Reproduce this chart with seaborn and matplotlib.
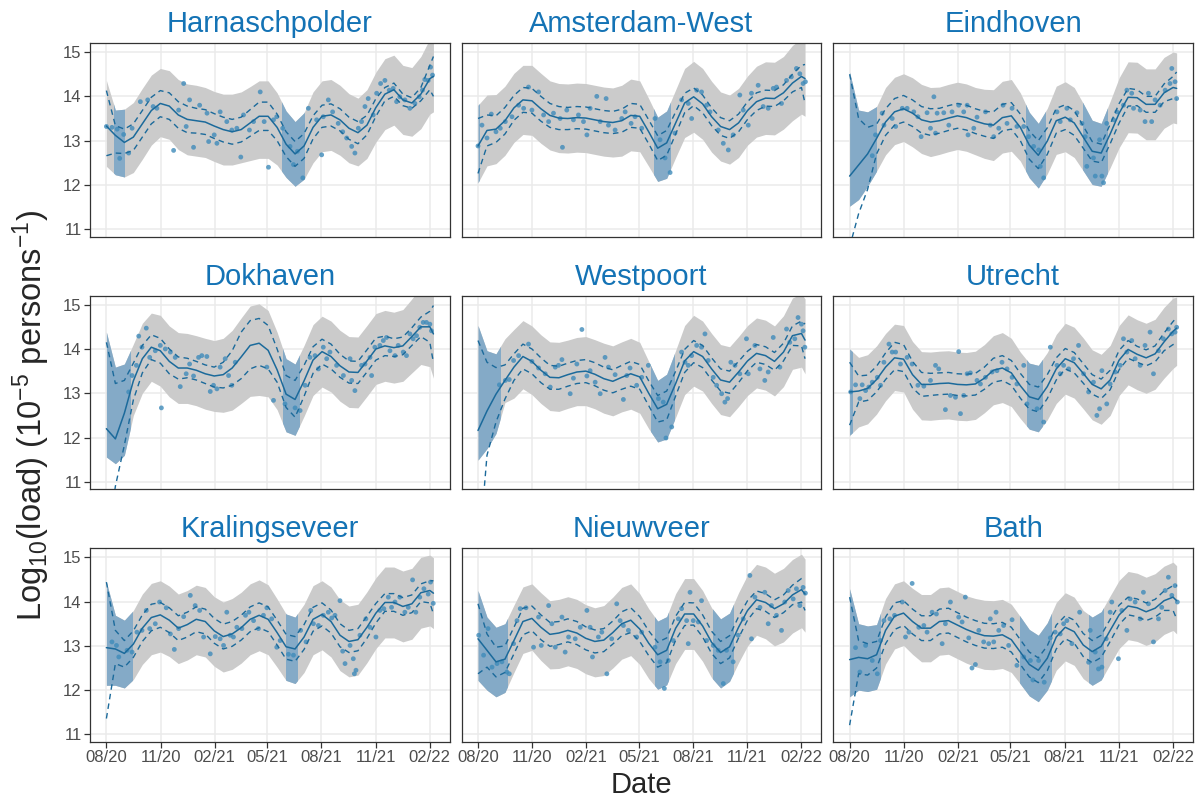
"""
Wastewater viral load per treatment plant: 3x3 facets with model fit,
confidence band (dashed), prediction band (grey / blue where data are sparse).
"""

import numpy as np
import pandas as pd
import matplotlib
matplotlib.use("Agg")
import matplotlib.pyplot as plt
import matplotlib.dates as mdates
from matplotlib.patches import Rectangle
import seaborn as sns

sns.set_theme(style="whitegrid")
plt.rcParams['font.family'] = ['Liberation Sans', 'DejaVu Sans']
plt.rcParams['mathtext.fontset'] = 'custom'
plt.rcParams['mathtext.rm'] = 'Liberation Sans'
plt.rcParams['mathtext.it'] = 'Liberation Sans:italic'
plt.rcParams['mathtext.bf'] = 'Liberation Sans:bold'
plt.rcParams['mathtext.default'] = 'regular'

GRAY_BAND = '#cbcbcb'
BLUE_BAND = '#84aac7'
LINE_COL = '#1b6a9b'
POINT_COL = '#3f8bba'
TITLE_COL = '#1473b5'

# ---------- data (x in months since 2020-08-01) ----------
START = pd.Timestamp('2020-08-01')
DAYS_PER_MONTH = 30.5

SITES = ['Harnaschpolder', 'Amsterdam-West', 'Eindhoven',
         'Dokhaven', 'Westpoort', 'Utrecht',
         'Kralingseveer', 'Nieuwveer', 'Bath']

MONTHS = [0, 0.5, 1, 1.5, 2, 2.5, 3, 3.5, 4, 4.5, 5, 5.5, 6, 6.5, 7, 7.5, 8, 8.5,
          9, 9.5, 10, 10.5, 11, 11.5, 12, 12.5, 13, 13.5, 14, 14.5, 15, 15.5,
          16, 16.5, 17, 17.5, 18, 18.2]

# Harnaschpolder
HAR_MEAN = [13.33, 13.12, 12.96, 13.08, 13.38, 13.68, 13.84, 13.78, 13.58, 13.48,
            13.45, 13.42, 13.33, 13.25, 13.2, 13.25, 13.4, 13.55, 13.55, 13.3,
            12.92, 12.7, 12.88, 13.3, 13.55, 13.58, 13.47, 13.28, 13.18, 13.35,
            13.75, 14.05, 14.15, 13.92, 13.85, 14.05, 14.4, 14.45]
HAR_CI_HI = [0.8, 0.22, 0.3, 0.3, 0.3, 0.3, 0.29, 0.3, 0.3, 0.3, 0.28, 0.28, 0.28,
             0.28, 0.28, 0.28, 0.3, 0.32, 0.32, 0.3, 0.28, 0.28, 0.28, 0.26, 0.25,
             0.25, 0.25, 0.25, 0.25, 0.22, 0.2, 0.15, 0.15, 0.13, 0.12, 0.15, 0.3, 0.45]
HAR_CI_LO = [0.67, 0.4, 0.25, 0.3, 0.3, 0.3, 0.3, 0.3, 0.3, 0.3, 0.28, 0.28, 0.28,
             0.28, 0.28, 0.28, 0.3, 0.32, 0.32, 0.3, 0.28, 0.28, 0.28, 0.26, 0.25,
             0.25, 0.25, 0.25, 0.25, 0.22, 0.2, 0.15, 0.15, 0.13, 0.12, 0.15, 0.25, 0.45]
HAR_PI_HI = [1.03, 0.57, 0.75, 0.78, 0.8, 0.8, 0.79, 0.8, 0.8, 0.8, 0.8, 0.78, 0.78,
             0.8, 0.85, 0.85, 0.82, 0.8, 0.8, 0.78, 0.75, 0.73, 0.75, 0.8, 0.8, 0.8,
             0.78, 0.78, 0.78, 0.8, 0.8, 0.8, 0.78, 0.78, 0.8, 0.85, 0.9, 0.95]
HAR_PI_LO = [0.91, 0.89, 0.78, 0.8, 0.8, 0.78, 0.75, 0.75, 0.78, 0.8, 0.8, 0.8, 0.8,
             0.8, 0.75, 0.75, 0.85, 0.95, 0.95, 0.85, 0.75, 0.73, 0.75, 0.8, 0.8,
             0.8, 0.8, 0.78, 0.75, 0.75, 0.78, 0.8, 0.8, 0.78, 0.75, 0.78, 0.8, 0.8]
HAR_BLUE = [(0.44, 1.0), (9.8, 11.0)]
HAR_PX = [0, 0.31, 0.6, 0.74, 0.96, 1.24, 1.43, 1.89, 2.3, 2.6, 2.81, 3.74, 4.02,
          4.3, 4.44, 4.63, 4.85, 5.19, 5.6, 5.69, 6.0, 6.15, 6.33, 6.7, 6.98, 7.26,
          7.48, 7.63, 7.96, 8.19, 8.56, 8.78, 9.02, 9.3, 9.48, 9.81, 10.22, 10.41,
          10.63, 10.93, 11.24, 11.7, 11.98, 12.07, 12.35, 12.59, 12.9, 13.15, 13.37,
          13.65, 13.83, 14.02, 14.2, 14.39, 14.57, 14.85, 15.04, 15.26, 15.5, 15.74,
          15.96, 16.15, 16.33, 16.61, 16.89, 17.17, 17.41, 17.59, 17.72, 17.91,
          18.04, 18.15]
HAR_PY = [13.32, 13.3, 13.26, 12.6, 13.14, 12.72, 13.28, 13.88, 13.92, 13.77,
          13.73, 12.78, 13.69, 14.29, 13.32, 13.92, 12.85, 13.8, 13.62, 12.98,
          13.13, 12.94, 13.65, 13.43, 13.24, 13.28, 12.63, 13.58, 13.24, 13.43,
          14.1, 13.43, 12.4, 13.47, 13.54, 13.28, 12.87, 12.46, 12.76, 12.16, 13.73,
          13.47, 12.68, 13.54, 13.92, 13.65, 13.39, 13.2, 13.06, 12.87, 12.72, 13.28,
          13.43, 13.77, 13.95, 13.58, 14.07, 14.29, 14.36, 14.14, 14.18, 13.88,
          13.99, 13.92, 13.73, 13.84, 13.99, 14.14, 14.38, 14.36, 14.66, 14.48]

# Amsterdam-West
AMS_MEAN = [12.88, 13.23, 13.26, 13.45, 13.74, 13.92, 13.9, 13.72, 13.57, 13.51,
            13.5, 13.52, 13.51, 13.47, 13.43, 13.41, 13.45, 13.57, 13.55, 13.2,
            12.83, 12.95, 13.4, 13.85, 13.99, 13.83, 13.54, 13.32, 13.25, 13.4,
            13.68, 13.88, 13.96, 13.95, 14.08, 14.3, 14.45, 14.4]
AMS_CI_HI = [0.62, 0.35, 0.3, 0.3, 0.28, 0.28, 0.28, 0.28, 0.27, 0.26, 0.25, 0.25,
             0.25, 0.25, 0.25, 0.25, 0.26, 0.27, 0.27, 0.27, 0.28, 0.28, 0.25, 0.22,
             0.2, 0.2, 0.2, 0.2, 0.2, 0.2, 0.2, 0.2, 0.18, 0.18, 0.18, 0.2, 0.25, 0.32]
AMS_CI_LO = [0.62, 0.35, 0.3, 0.3, 0.28, 0.28, 0.28, 0.28, 0.27, 0.26, 0.25, 0.25,
             0.25, 0.25, 0.25, 0.25, 0.26, 0.27, 0.27, 0.27, 0.28, 0.28, 0.25, 0.22,
             0.2, 0.2, 0.2, 0.2, 0.2, 0.2, 0.2, 0.2, 0.18, 0.18, 0.18, 0.2, 0.25, 0.56]
AMS_PI_HI = [0.92, 0.8, 0.78, 0.78, 0.78, 0.78, 0.8, 0.8, 0.78, 0.78, 0.78, 0.78,
             0.78, 0.78, 0.78, 0.78, 0.8, 0.82, 0.8, 0.75, 0.7, 0.72, 0.75, 0.78,
             0.8, 0.8, 0.8, 0.78, 0.78, 0.78, 0.78, 0.8, 0.82, 0.82, 0.82, 0.85,
             0.85, 0.85]
AMS_PI_LO = [0.83, 0.8, 0.78, 0.78, 0.78, 0.78, 0.78, 0.78, 0.78, 0.78, 0.78, 0.78,
             0.78, 0.78, 0.78, 0.78, 0.8, 0.8, 0.8, 0.78, 0.75, 0.8, 0.78, 0.78,
             0.8, 0.8, 0.8, 0.78, 0.78, 0.78, 0.78, 0.8, 0.82, 0.82, 0.82, 0.85,
             0.85, 0.85]
AMS_BLUE = [(0.0, 0.07), (9.8, 10.7)]
AMS_PX = [0, 0.22, 0.5, 0.74, 1.0, 1.24, 1.52, 1.89, 2.26, 2.54, 2.81, 3.0, 3.37,
          3.65, 3.93, 4.2, 4.57, 4.7, 4.94, 5.31, 5.59, 5.87, 6.06, 6.24, 6.61, 6.8,
          7.13, 7.26, 7.63, 8.0, 8.19, 8.52, 8.74, 9.11, 9.85, 10.13, 10.41, 10.69,
          10.96, 11.33, 11.7, 11.89, 12.17, 12.44, 12.72, 12.91, 13.37, 13.65, 13.93,
          14.2, 14.57, 14.76, 15.04, 15.22, 15.59, 15.87, 16.15, 16.43, 16.61, 16.89,
          17.17, 17.44, 17.72, 17.91, 18.09, 18.22]
AMS_PY = [12.88, 13.35, 13.06, 13.6, 13.2, 13.28, 13.43, 13.54, 13.8, 13.73, 14.21,
          13.69, 14.1, 13.58, 13.43, 13.62, 13.5, 12.85, 13.69, 13.47, 13.58, 13.43,
          13.13, 13.73, 14.0, 13.43, 13.95, 13.35, 13.24, 13.5, 13.65, 13.39, 13.54,
          13.28, 13.5, 13.02, 12.61, 12.28, 13.17, 13.92, 13.84, 13.5, 14.14, 14.1,
          13.8, 13.65, 13.24, 12.94, 12.79, 13.13, 14.03, 13.69, 13.35, 14.07, 14.25,
          13.77, 13.73, 14.18, 14.21, 13.84, 14.36, 14.44, 14.63, 14.51, 14.29, 14.33]

# Eindhoven
EIN_MEAN = [12.2, 12.45, 12.7, 13.05, 13.42, 13.65, 13.72, 13.62, 13.47, 13.42,
            13.45, 13.51, 13.56, 13.52, 13.44, 13.38, 13.35, 13.52, 13.56, 13.3,
            12.9, 12.67, 12.99, 13.45, 13.53, 13.4, 13.08, 12.76, 12.72, 13.15,
            13.62, 13.98, 13.97, 13.82, 13.82, 14.08, 14.2, 14.18]
EIN_CI_HI = [2.3, 1.05, 0.6, 0.32, 0.3, 0.3, 0.3, 0.3, 0.3, 0.3, 0.28, 0.28, 0.28,
             0.28, 0.28, 0.28, 0.3, 0.3, 0.3, 0.3, 0.32, 0.33, 0.3, 0.28, 0.28, 0.28,
             0.25, 0.22, 0.2, 0.22, 0.22, 0.2, 0.18, 0.18, 0.18, 0.2, 0.25, 0.37]
EIN_CI_LO = [1.6, 1.1, 0.8, 0.35, 0.3, 0.3, 0.3, 0.3, 0.3, 0.3, 0.28, 0.28, 0.28,
             0.28, 0.28, 0.28, 0.3, 0.3, 0.3, 0.3, 0.32, 0.3, 0.3, 0.28, 0.28, 0.28,
             0.25, 0.22, 0.22, 0.22, 0.22, 0.2, 0.18, 0.18, 0.18, 0.2, 0.25, 0.25]
EIN_PI_HI = [2.35, 1.24, 0.95, 0.72, 0.78, 0.78, 0.79, 0.8, 0.8, 0.78, 0.76, 0.76,
             0.76, 0.76, 0.76, 0.78, 0.8, 0.82, 0.82, 0.78, 0.74, 0.72, 0.74, 0.78,
             0.8, 0.8, 0.76, 0.7, 0.67, 0.74, 0.8, 0.8, 0.8, 0.8, 0.8, 0.8, 0.8, 0.8]
EIN_PI_LO = [0.68, 0.78, 0.73, 0.74, 0.74, 0.74, 0.74, 0.76, 0.76, 0.78, 0.76, 0.76,
             0.76, 0.76, 0.76, 0.78, 0.8, 0.8, 0.8, 0.76, 0.74, 0.74, 0.74, 0.76,
             0.78, 0.78, 0.76, 0.75, 0.75, 0.76, 0.78, 0.8, 0.8, 0.8, 0.8, 0.8, 0.8, 0.8]
EIN_BLUE = [(0.0, 1.45), (9.8, 10.9), (13.0, 14.35)]
EIN_PX = [1.26, 1.44, 1.81, 1.91, 2.37, 2.56, 2.93, 3.2, 3.57, 3.8, 3.98, 4.31, 4.5,
          4.78, 4.87, 4.69, 5.24, 5.52, 5.7, 6.07, 6.35, 6.54, 6.59, 6.91, 7.09,
          7.56, 7.83, 8.02, 8.3, 8.54, 8.76, 9.04, 9.31, 9.69, 9.96, 10.24, 10.52,
          10.61, 10.8, 11.54, 11.72, 12.09, 12.28, 12.65, 12.93, 13.11, 13.2, 13.57,
          13.67, 13.91, 14.04, 14.13, 14.31, 14.69, 14.87, 15.24, 15.43, 15.7, 15.8,
          16.17, 16.44, 16.63, 16.81, 17.0, 17.28, 17.56, 17.83, 17.93, 18.11, 18.2]
EIN_PY = [12.66, 13.13, 13.62, 13.35, 13.5, 13.32, 13.73, 13.73, 13.65, 13.54,
          13.09, 13.63, 13.28, 13.17, 13.62, 13.99, 13.63, 13.35, 13.65, 13.8,
          13.65, 13.8, 13.13, 13.28, 13.53, 13.65, 13.35, 13.09, 13.28, 13.8, 13.39,
          13.73, 13.32, 13.32, 13.09, 12.87, 12.79, 12.42, 12.16, 13.65, 13.43,
          13.73, 13.47, 13.63, 13.39, 13.09, 12.42, 12.61, 12.2, 13.02, 12.2, 12.05,
          13.39, 13.47, 13.65, 13.8, 14.14, 14.07, 13.73, 13.69, 13.43, 14.07, 13.43,
          13.92, 13.8, 14.14, 14.29, 14.63, 14.33, 13.95]

# Dokhaven
DOK_MEAN = [12.2, 11.97, 12.55, 13.28, 13.78, 14.04, 13.96, 13.72, 13.57, 13.57,
            13.52, 13.44, 13.39, 13.42, 13.57, 13.82, 14.08, 14.13, 13.97, 13.53,
            12.98, 12.86, 13.28, 13.75, 13.94, 13.83, 13.62, 13.48, 13.47, 13.73,
            14.0, 14.07, 14.03, 14.07, 14.28, 14.5, 14.5, 14.34]
DOK_CI_HI = [1.95, 1.25, 0.74, 0.4, 0.3, 0.28, 0.28, 0.28, 0.25, 0.22, 0.2, 0.2, 0.2,
             0.28, 0.39, 0.56, 0.56, 0.56, 0.56, 0.47, 0.42, 0.43, 0.35, 0.3, 0.28,
             0.28, 0.26, 0.25, 0.25, 0.25, 0.25, 0.22, 0.2, 0.2, 0.2, 0.22, 0.35, 0.64]
DOK_CI_LO = [2.7, 1.07, 0.72, 0.43, 0.32, 0.28, 0.28, 0.28, 0.25, 0.22, 0.22, 0.22,
             0.25, 0.3, 0.39, 0.49, 0.53, 0.5, 0.42, 0.28, 0.3, 0.4, 0.35, 0.3, 0.28,
             0.28, 0.26, 0.25, 0.25, 0.25, 0.25, 0.22, 0.2, 0.2, 0.2, 0.22, 0.35, 0.65]
DOK_PI_HI = [2.18, 1.62, 1.11, 0.83, 0.8, 0.77, 0.8, 0.8, 0.8, 0.78, 0.78, 0.8, 0.8,
             0.82, 0.85, 0.88, 0.89, 0.89, 0.9, 0.85, 0.8, 0.8, 0.8, 0.8, 0.8, 0.8,
             0.8, 0.8, 0.8, 0.8, 0.8, 0.8, 0.8, 0.82, 0.85, 0.9, 0.95, 1.0]
DOK_PI_LO = [0.64, 0.56, 0.95, 0.78, 0.78, 0.77, 0.8, 0.8, 0.8, 0.8, 0.8, 0.8, 0.8,
             0.85, 0.95, 1.05, 1.15, 1.18, 1.05, 0.9, 0.85, 0.81, 0.8, 0.8, 0.8, 0.8,
             0.8, 0.8, 0.8, 0.8, 0.8, 0.8, 0.8, 0.8, 0.82, 0.85, 0.9, 1.0]
DOK_BLUE = [(0.0, 1.3), (9.85, 10.7)]
DOK_PX = [1.24, 1.43, 1.67, 1.8, 1.98, 2.22, 2.41, 2.72, 3.0, 3.06, 3.28, 3.56, 3.83,
          4.11, 4.44, 4.63, 4.85, 5.13, 5.31, 5.59, 5.78, 5.96, 6.15, 6.33, 6.61, 6.8,
          6.98, 7.17, 8.93, 9.3, 9.94, 10.5, 10.78, 11.06, 11.33, 11.61, 11.8, 12.07,
          12.26, 12.44, 12.81, 13.19, 13.56, 13.65, 13.83, 14.2, 14.39, 14.67, 14.76,
          14.94, 15.22, 15.41, 15.59, 15.78, 16.06, 16.24, 16.52, 16.7, 16.89, 17.07,
          17.26, 17.44, 17.63, 17.81, 18.0, 18.09]
DOK_PY = [13.03, 13.4, 13.63, 14.29, 14.04, 14.47, 13.81, 13.96, 14.08, 12.67, 14.0,
          13.93, 13.81, 13.15, 13.44, 13.66, 13.39, 13.81, 13.85, 13.83, 13.04, 13.18,
          13.1, 13.59, 13.78, 13.4, 13.18, 13.7, 13.59, 12.84, 12.76, 12.67, 12.61,
          13.18, 13.81, 13.85, 13.55, 14.04, 13.78, 13.93, 13.63, 13.4, 13.78, 13.29,
          13.06, 13.63, 13.66, 13.81, 13.4, 14.04, 14.08, 14.19, 14.26, 13.96, 13.85,
          14.08, 13.93, 13.85, 14.34, 14.23, 14.3, 14.49, 14.6, 14.6, 14.56, 14.41]

# Westpoort
WES_MEAN = [12.16, 12.6, 12.98, 13.29, 13.59, 13.83, 13.72, 13.52, 13.36, 13.35,
            13.42, 13.48, 13.5, 13.43, 13.33, 13.27, 13.36, 13.44, 13.37, 13.0,
            12.65, 12.75, 13.22, 13.73, 13.94, 13.83, 13.55, 13.3, 13.25, 13.48,
            13.73, 13.9, 13.85, 13.72, 13.93, 14.3, 14.35, 14.2]
WES_CI_HI = [2.03, 1.1, 0.6, 0.35, 0.3, 0.28, 0.28, 0.28, 0.27, 0.26, 0.26, 0.26,
             0.26, 0.26, 0.26, 0.26, 0.27, 0.28, 0.28, 0.28, 0.3, 0.3, 0.28, 0.26,
             0.25, 0.25, 0.25, 0.25, 0.25, 0.24, 0.22, 0.2, 0.2, 0.2, 0.2, 0.22, 0.28,
             0.36]
WES_CI_LO = [3.0, 1.0, 0.63, 0.42, 0.3, 0.28, 0.28, 0.28, 0.27, 0.26, 0.26, 0.26,
             0.26, 0.26, 0.26, 0.26, 0.27, 0.28, 0.28, 0.28, 0.3, 0.35, 0.28, 0.26,
             0.25, 0.25, 0.25, 0.25, 0.25, 0.24, 0.22, 0.2, 0.2, 0.2, 0.2, 0.22, 0.28,
             0.42]
WES_PI_HI = [2.37, 1.36, 0.91, 0.94, 0.85, 0.81, 0.8, 0.8, 0.8, 0.8, 0.78, 0.78,
             0.78, 0.78, 0.8, 0.8, 0.8, 0.8, 0.78, 0.72, 0.64, 0.68, 0.75, 0.8, 0.82,
             0.8, 0.8, 0.8, 0.8, 0.8, 0.8, 0.8, 0.8, 0.8, 0.82, 0.85, 0.9, 0.93]
WES_PI_LO = [0.67, 0.85, 0.89, 0.5, 0.7, 0.73, 0.75, 0.75, 0.75, 0.76, 0.76, 0.76,
             0.78, 0.78, 0.78, 0.78, 0.78, 0.8, 0.82, 0.8, 0.75, 0.78, 0.76, 0.76,
             0.78, 0.78, 0.78, 0.78, 0.78, 0.78, 0.78, 0.78, 0.78, 0.78, 0.78, 0.76,
             0.76, 0.76]
WES_BLUE = [(0.0, 1.2), (9.6, 10.9)]
WES_PX = [1.19, 1.52, 1.74, 1.98, 2.26, 2.81, 3.0, 3.37, 3.74, 4.02, 4.3, 4.48, 4.67,
          5.13, 5.31, 5.5, 5.78, 6.06, 6.24, 6.52, 6.8, 7.07, 7.26, 7.63, 8.09, 8.28,
          8.46, 8.83, 9.11, 9.48, 10.04, 10.31, 10.46, 10.78, 11.33, 11.52, 11.7,
          11.89, 12.17, 12.44, 12.63, 12.81, 13.09, 13.28, 13.56, 13.74, 13.89, 14.07,
          14.3, 14.57, 14.94, 15.04, 15.41, 15.69, 15.96, 16.15, 16.43, 16.8, 17.17,
          17.35, 17.63, 17.81, 18.0, 18.09, 18.19]
WES_PY = [13.19, 13.29, 13.31, 13.74, 13.85, 14.11, 13.72, 13.57, 13.44, 13.14,
          13.59, 13.63, 13.76, 12.99, 13.34, 13.66, 14.44, 13.39, 13.51, 13.25, 12.99,
          13.81, 13.59, 13.42, 12.86, 13.4, 13.57, 13.18, 13.36, 13.63, 12.88, 12.8,
          11.99, 12.24, 13.93, 13.7, 13.63, 13.85, 14.08, 14.04, 14.34, 13.74, 13.36,
          13.18, 12.99, 12.8, 12.88, 13.7, 13.63, 13.44, 14.23, 13.44, 14.08, 13.55,
          13.29, 13.48, 14.26, 13.59, 14.45, 14.15, 14.23, 14.71, 14.56, 14.41, 14.04]

# Utrecht
UTR_MEAN = [13.03, 13.05, 13.11, 13.31, 13.59, 13.8, 13.77, 13.42, 13.2, 13.2,
            13.22, 13.23, 13.2, 13.19, 13.21, 13.34, 13.52, 13.57, 13.46, 13.17,
            12.92, 12.86, 13.15, 13.55, 13.78, 13.69, 13.45, 13.2, 13.1, 13.3,
            13.75, 13.99, 13.88, 13.8, 13.89, 14.16, 14.4, 14.47]
UTR_CI_HI = [0.67, 0.34, 0.3, 0.3, 0.32, 0.35, 0.33, 0.3, 0.27, 0.25, 0.24, 0.24,
             0.24, 0.24, 0.24, 0.25, 0.27, 0.28, 0.28, 0.28, 0.28, 0.28, 0.27, 0.25,
             0.23, 0.23, 0.22, 0.22, 0.22, 0.22, 0.22, 0.2, 0.18, 0.18, 0.18, 0.2,
             0.22, 0.24]
UTR_CI_LO = [0.75, 0.25, 0.27, 0.28, 0.28, 0.27, 0.28, 0.3, 0.27, 0.25, 0.25, 0.25,
             0.25, 0.25, 0.25, 0.25, 0.27, 0.28, 0.28, 0.28, 0.28, 0.28, 0.27, 0.25,
             0.23, 0.23, 0.22, 0.22, 0.22, 0.22, 0.22, 0.2, 0.18, 0.18, 0.18, 0.2,
             0.3, 0.36]
UTR_PI_HI = [0.97, 0.76, 0.76, 0.76, 0.76, 0.76, 0.76, 0.75, 0.74, 0.73, 0.73, 0.73,
             0.73, 0.73, 0.74, 0.76, 0.78, 0.8, 0.78, 0.76, 0.76, 0.77, 0.77, 0.78,
             0.8, 0.8, 0.8, 0.78, 0.78, 0.78, 0.78, 0.78, 0.78, 0.78, 0.78, 0.78, 0.75,
             0.7]
UTR_PI_LO = [0.98, 0.81, 0.8, 0.78, 0.76, 0.74, 0.74, 0.78, 0.8, 0.81, 0.81, 0.81,
             0.81, 0.81, 0.8, 0.78, 0.78, 0.78, 0.76, 0.74, 0.73, 0.73, 0.75, 0.78,
             0.8, 0.8, 0.8, 0.8, 0.8, 0.8, 0.8, 0.8, 0.8, 0.8, 0.8, 0.82, 0.84, 0.84]
UTR_BLUE = [(0.0, 0.15), (9.85, 10.7)]
UTR_PX = [0.06, 0.33, 0.57, 0.7, 0.89, 1.07, 1.26, 1.54, 1.72, 1.91, 2.19, 2.37, 2.56,
          2.83, 3.2, 3.48, 3.8, 4.13, 4.5, 4.78, 4.96, 5.33, 5.61, 5.89, 6.07, 6.17,
          6.35, 6.54, 6.72, 7.09, 7.28, 7.56, 7.93, 8.2, 8.48, 8.76, 9.04, 9.31, 9.69,
          9.87, 10.43, 10.8, 11.17, 11.54, 11.72, 11.91, 12.19, 12.46, 12.74, 13.02,
          13.3, 13.57, 13.76, 13.91, 14.04, 14.31, 14.5, 14.78, 15.06, 15.24, 15.43,
          15.7, 15.89, 16.17, 16.44, 16.72, 16.91, 17.19, 17.46, 17.74, 17.93, 18.11,
          18.2]
UTR_PY = [13.03, 13.19, 12.88, 13.19, 13.06, 13.14, 13.25, 13.36, 13.18, 13.7, 14.11,
          13.93, 13.93, 13.66, 13.81, 13.66, 13.18, 13.16, 13.29, 13.63, 13.55, 12.63,
          12.95, 12.91, 13.94, 12.54, 12.95, 13.44, 13.46, 13.29, 13.21, 13.36, 13.48,
          13.51, 13.7, 13.55, 13.36, 13.21, 13.63, 12.76, 12.65, 12.35, 14.04, 13.63,
          13.44, 13.63, 13.55, 13.78, 14.08, 13.44, 13.03, 13.25, 12.5, 12.65, 13.51,
          12.76, 13.21, 13.48, 13.63, 14.23, 13.93, 14.19, 13.78, 13.63, 14.08, 14.38,
          13.44, 13.96, 14.23, 14.45, 14.34, 14.38, 14.49]

# Kralingseveer
KRA_MEAN = [12.96, 12.93, 12.83, 13.04, 13.4, 13.64, 13.7, 13.58, 13.4, 13.48, 13.6,
            13.55, 13.34, 13.21, 13.27, 13.41, 13.6, 13.69, 13.6, 13.3, 12.98, 12.93,
            13.2, 13.6, 13.71, 13.55, 13.24, 13.1, 13.14, 13.42, 13.74, 13.98, 13.98,
            13.89, 13.95, 14.2, 14.25, 14.19]
KRA_CI_HI = [1.48, 0.42, 0.29, 0.3, 0.3, 0.3, 0.28, 0.28, 0.28, 0.28, 0.28, 0.28,
             0.28, 0.28, 0.28, 0.28, 0.28, 0.28, 0.28, 0.28, 0.28, 0.28, 0.28, 0.27,
             0.26, 0.26, 0.26, 0.25, 0.25, 0.25, 0.22, 0.2, 0.2, 0.2, 0.2, 0.2, 0.22,
             0.28]
KRA_CI_LO = [1.6, 0.33, 0.31, 0.3, 0.3, 0.3, 0.28, 0.28, 0.28, 0.28, 0.28, 0.28,
             0.28, 0.28, 0.28, 0.28, 0.28, 0.28, 0.28, 0.28, 0.28, 0.28, 0.28, 0.27,
             0.26, 0.26, 0.26, 0.25, 0.25, 0.25, 0.22, 0.2, 0.2, 0.2, 0.2, 0.2, 0.28,
             0.47]
KRA_PI_HI = [1.48, 0.76, 0.75, 0.76, 0.77, 0.77, 0.77, 0.77, 0.77, 0.77, 0.77, 0.77,
             0.77, 0.78, 0.8, 0.8, 0.8, 0.8, 0.78, 0.76, 0.74, 0.72, 0.74, 0.76, 0.76,
             0.78, 0.8, 0.8, 0.8, 0.8, 0.8, 0.8, 0.8, 0.8, 0.8, 0.8, 0.8, 0.8]
KRA_PI_LO = [0.85, 0.82, 0.78, 0.8, 0.82, 0.84, 0.84, 0.82, 0.8, 0.8, 0.8, 0.8, 0.8,
             0.8, 0.8, 0.8, 0.8, 0.8, 0.8, 0.78, 0.76, 0.78, 0.8, 0.8, 0.8, 0.8, 0.8,
             0.8, 0.8, 0.8, 0.8, 0.8, 0.8, 0.8, 0.8, 0.8, 0.8, 0.8]
KRA_BLUE = [(0.0, 1.43), (10.0, 10.6)]
KRA_PX = [0.31, 0.56, 0.69, 1.15, 1.43, 1.7, 1.98, 2.22, 2.41, 2.72, 2.96, 3.33, 3.56,
          3.78, 4.02, 4.3, 4.67, 4.94, 5.19, 5.41, 5.78, 6.06, 6.33, 6.52, 6.7, 6.89,
          7.07, 7.26, 7.54, 7.74, 7.93, 8.19, 8.46, 8.74, 8.93, 9.2, 9.48, 9.67,
          10.13, 10.41, 10.81, 11.11, 11.37, 11.52, 11.8, 12.07, 12.35, 12.54, 12.72,
          13.0, 13.15, 13.28, 13.56, 13.74, 13.8, 13.89, 14.11, 14.44, 14.67, 15.0,
          15.22, 15.44, 15.69, 15.87, 16.06, 16.33, 16.61, 16.8, 17.04, 17.22, 17.44,
          17.67, 17.91, 18.04, 18.19]
KRA_PY = [13.09, 13.01, 12.75, 12.9, 12.86, 13.31, 13.35, 13.8, 13.39, 13.5, 13.99,
          13.86, 13.27, 12.92, 13.39, 13.66, 14.14, 13.91, 13.8, 13.2, 12.82, 13.21,
          13.16, 13.01, 13.76, 13.24, 13.2, 13.42, 13.39, 13.69, 13.76, 13.57, 13.39,
          13.69, 13.86, 13.61, 12.97, 13.12, 12.81, 12.79, 13.35, 13.09, 13.8, 13.5,
          13.46, 13.69, 13.76, 13.63, 13.69, 14.02, 12.88, 12.6, 13.01, 12.71, 12.37,
          12.45, 13.24, 13.61, 13.42, 13.2, 13.8, 13.84, 14.1, 13.87, 13.99, 14.1,
          13.76, 13.87, 14.49, 13.76, 14.1, 14.29, 14.17, 14.44, 13.96]

# Nieuwveer
NIE_MEAN = [13.16, 12.9, 12.64, 12.7, 13.12, 13.55, 13.62, 13.42, 13.26, 13.29,
            13.35, 13.29, 13.17, 13.1, 13.13, 13.3, 13.5, 13.58, 13.38, 13.06, 12.8,
            12.9, 13.4, 13.72, 13.72, 13.45, 13.08, 12.85, 12.98, 13.42, 13.8, 14.04,
            13.98, 13.84, 13.95, 14.15, 14.27, 14.17]
NIE_CI_HI = [0.79, 0.37, 0.33, 0.3, 0.3, 0.3, 0.28, 0.28, 0.27, 0.26, 0.26, 0.26,
             0.26, 0.26, 0.26, 0.26, 0.27, 0.28, 0.28, 0.28, 0.28, 0.28, 0.27, 0.26,
             0.25, 0.25, 0.25, 0.25, 0.25, 0.24, 0.22, 0.2, 0.2, 0.2, 0.2, 0.22, 0.25,
             0.3]
NIE_CI_LO = [0.79, 0.38, 0.34, 0.3, 0.3, 0.3, 0.28, 0.28, 0.27, 0.26, 0.26, 0.26,
             0.26, 0.26, 0.26, 0.26, 0.27, 0.28, 0.28, 0.28, 0.28, 0.28, 0.27, 0.26,
             0.25, 0.25, 0.25, 0.25, 0.25, 0.24, 0.22, 0.2, 0.2, 0.2, 0.2, 0.22, 0.28,
             0.37]
NIE_PI_HI = [1.09, 0.75, 0.78, 0.8, 0.8, 0.78, 0.78, 0.78, 0.76, 0.76, 0.76, 0.76,
             0.76, 0.76, 0.78, 0.8, 0.82, 0.82, 0.8, 0.78, 0.76, 0.76, 0.78, 0.8, 0.8,
             0.8, 0.78, 0.76, 0.76, 0.78, 0.8, 0.8, 0.8, 0.8, 0.8, 0.8, 0.8, 0.79]
NIE_PI_LO = [0.94, 0.9, 0.79, 0.75, 0.72, 0.72, 0.72, 0.75, 0.78, 0.8, 0.8, 0.8, 0.8,
             0.8, 0.8, 0.8, 0.8, 0.8, 0.8, 0.8, 0.78, 0.78, 0.8, 0.8, 0.8, 0.8, 0.8,
             0.8, 0.78, 0.8, 0.8, 0.8, 0.82, 0.84, 0.86, 0.86, 0.86, 0.86]
NIE_BLUE = [(0.0, 1.6), (9.85, 10.6), (13.1, 14.2)]
NIE_PX = [0.04, 0.31, 0.56, 0.78, 1.06, 1.33, 1.61, 1.74, 1.98, 2.17, 2.35, 2.67,
          3.09, 3.37, 3.52, 3.93, 4.11, 4.3, 4.67, 4.85, 5.04, 5.41, 5.69, 6.06, 6.24,
          6.37, 6.7, 6.89, 7.17, 7.44, 7.72, 7.91, 8.09, 8.37, 8.83, 9.11, 9.85, 10.13,
          10.37, 10.59, 10.87, 11.15, 11.33, 11.61, 11.7, 11.8, 11.98, 12.26, 12.44,
          12.72, 13.09, 13.37, 13.65, 13.83, 14.2, 14.48, 14.76, 15.13, 15.22, 15.41,
          15.69, 15.96, 16.15, 16.33, 16.61, 16.89, 17.07, 17.26, 17.54, 17.72, 17.91,
          18.09, 18.22]
NIE_PY = [13.24, 12.79, 13.39, 12.52, 12.6, 12.64, 12.41, 12.37, 13.05, 13.57, 13.84,
          13.86, 12.97, 13.65, 13.01, 13.91, 13.5, 12.97, 13.65, 12.86, 13.2, 13.16,
          13.42, 13.8, 13.42, 12.75, 13.2, 13.31, 12.37, 13.16, 13.95, 13.57, 13.46,
          13.35, 13.2, 13.31, 12.97, 12.64, 12.04, 12.67, 13.12, 13.61, 13.84, 13.57,
          13.05, 14.21, 13.57, 13.54, 14.02, 13.12, 13.01, 12.9, 12.15, 12.9, 12.64,
          13.24, 13.61, 14.59, 13.16, 14.1, 13.87, 14.21, 13.5, 13.91, 13.69, 13.35,
          13.99, 14.25, 14.06, 14.29, 13.91, 14.32, 14.19]

# Bath
BAT_MEAN = [12.69, 12.74, 12.71, 12.8, 13.35, 13.67, 13.74, 13.55, 13.4, 13.4, 13.55,
            13.57, 13.47, 13.37, 13.29, 13.23, 13.22, 13.25, 13.14, 12.86, 12.58,
            12.45, 12.72, 13.2, 13.42, 13.32, 13.02, 12.87, 12.99, 13.35, 13.7, 13.9,
            13.86, 13.77, 13.85, 14.02, 14.1, 14.02]
BAT_CI_HI = [1.41, 0.38, 0.34, 0.3, 0.3, 0.3, 0.28, 0.28, 0.28, 0.28, 0.28, 0.28,
             0.28, 0.28, 0.28, 0.28, 0.28, 0.28, 0.28, 0.28, 0.28, 0.28, 0.28, 0.27,
             0.26, 0.26, 0.26, 0.25, 0.25, 0.25, 0.22, 0.2, 0.2, 0.2, 0.2, 0.22, 0.26,
             0.34]
BAT_CI_LO = [1.48, 0.37, 0.37, 0.3, 0.3, 0.3, 0.28, 0.28, 0.28, 0.28, 0.28, 0.28,
             0.28, 0.28, 0.28, 0.28, 0.28, 0.28, 0.28, 0.28, 0.28, 0.28, 0.28, 0.27,
             0.26, 0.26, 0.26, 0.25, 0.25, 0.25, 0.22, 0.2, 0.2, 0.2, 0.2, 0.22, 0.3,
             0.41]
BAT_PI_HI = [1.6, 0.76, 0.74, 0.68, 0.72, 0.73, 0.73, 0.75, 0.76, 0.76, 0.76, 0.76,
             0.76, 0.76, 0.78, 0.8, 0.8, 0.8, 0.8, 0.8, 0.79, 0.79, 0.8, 0.78, 0.78,
             0.78, 0.78, 0.78, 0.78, 0.78, 0.78, 0.78, 0.78, 0.78, 0.78, 0.78, 0.79,
             0.79]
BAT_PI_LO = [0.84, 0.74, 0.74, 0.78, 0.76, 0.74, 0.73, 0.74, 0.76, 0.76, 0.76, 0.76,
             0.76, 0.76, 0.76, 0.76, 0.76, 0.76, 0.74, 0.72, 0.71, 0.71, 0.72, 0.75,
             0.76, 0.76, 0.76, 0.76, 0.76, 0.76, 0.76, 0.76, 0.76, 0.76, 0.76, 0.76,
             0.75, 0.75]
BAT_BLUE = [(0.0, 1.7), (9.5, 11.2), (13.3, 14.1)]
BAT_PX = [0.33, 0.57, 0.89, 1.26, 1.54, 1.72, 1.91, 2.24, 2.5, 2.93, 3.11, 3.3, 3.48,
          3.85, 4.13, 4.31, 4.59, 4.83, 5.15, 5.33, 5.61, 6.07, 6.26, 6.44, 6.63,
          6.81, 7.0, 7.19, 7.46, 7.74, 7.83, 8.02, 8.15, 8.3, 8.57, 8.85, 9.04, 9.31,
          9.69, 10.06, 10.2, 10.52, 10.83, 11.17, 11.44, 11.72, 11.91, 12.09, 12.37,
          12.8, 13.3, 13.39, 13.67, 13.85, 14.04, 14.28, 14.5, 14.59, 14.96, 15.15,
          15.43, 15.61, 15.89, 16.17, 16.35, 16.63, 16.91, 17.19, 17.37, 17.56,
          17.74, 17.93, 18.11, 18.24]
BAT_PY = [12.96, 12.41, 13.01, 12.67, 12.37, 13.12, 13.57, 13.61, 13.69, 13.99, 13.2,
          13.31, 14.41, 13.42, 13.46, 13.31, 13.76, 13.72, 13.05, 13.5, 13.99, 13.65,
          13.54, 14.1, 13.18, 12.5, 12.58, 13.35, 13.09, 13.05, 13.61, 13.09, 13.76,
          13.35, 13.46, 13.01, 13.59, 12.56, 12.75, 12.67, 12.23, 12.67, 12.18, 13.18,
          13.31, 13.27, 13.5, 13.57, 13.05, 13.76, 12.63, 13.35, 12.86, 12.48, 12.52,
          13.16, 13.76, 13.99, 12.71, 13.8, 13.35, 14.06, 13.99, 13.61, 14.21, 13.95,
          13.09, 13.61, 13.87, 14.25, 14.55, 14.14, 14.36, 13.99]

SITE_DATA = {
    'Harnaschpolder': (HAR_MEAN, HAR_CI_LO, HAR_CI_HI, HAR_PI_LO, HAR_PI_HI, HAR_BLUE, HAR_PX, HAR_PY),
    'Amsterdam-West': (AMS_MEAN, AMS_CI_LO, AMS_CI_HI, AMS_PI_LO, AMS_PI_HI, AMS_BLUE, AMS_PX, AMS_PY),
    'Eindhoven':      (EIN_MEAN, EIN_CI_LO, EIN_CI_HI, EIN_PI_LO, EIN_PI_HI, EIN_BLUE, EIN_PX, EIN_PY),
    'Dokhaven':       (DOK_MEAN, DOK_CI_LO, DOK_CI_HI, DOK_PI_LO, DOK_PI_HI, DOK_BLUE, DOK_PX, DOK_PY),
    'Westpoort':      (WES_MEAN, WES_CI_LO, WES_CI_HI, WES_PI_LO, WES_PI_HI, WES_BLUE, WES_PX, WES_PY),
    'Utrecht':        (UTR_MEAN, UTR_CI_LO, UTR_CI_HI, UTR_PI_LO, UTR_PI_HI, UTR_BLUE, UTR_PX, UTR_PY),
    'Kralingseveer':  (KRA_MEAN, KRA_CI_LO, KRA_CI_HI, KRA_PI_LO, KRA_PI_HI, KRA_BLUE, KRA_PX, KRA_PY),
    'Nieuwveer':      (NIE_MEAN, NIE_CI_LO, NIE_CI_HI, NIE_PI_LO, NIE_PI_HI, NIE_BLUE, NIE_PX, NIE_PY),
    'Bath':           (BAT_MEAN, BAT_CI_LO, BAT_CI_HI, BAT_PI_LO, BAT_PI_HI, BAT_BLUE, BAT_PX, BAT_PY),
}


def to_dates(months):
    return START + pd.to_timedelta(np.asarray(months, dtype=float) * DAYS_PER_MONTH, unit='D')


# ---------- one facet ----------
def draw_panel(ax, name):
    mean, ci_lo, ci_hi, pi_lo, pi_hi, blue, px, py = SITE_DATA[name]
    for arr in (mean, ci_lo, ci_hi, pi_lo, pi_hi):
        assert len(arr) == len(MONTHS), name
    assert len(px) == len(py), name

    d = pd.Series(to_dates(MONTHS))
    mean = np.array(mean)
    low, high = mean - np.array(pi_lo), mean + np.array(pi_hi)

    ax.fill_between(d, low, high, color=GRAY_BAND, lw=0, zorder=1)
    for m0, m1 in blue:
        band = ax.fill_between(d, low, high, color=BLUE_BAND, lw=0, zorder=1.5)
        x0, x1 = mdates.date2num(to_dates([m0, m1]))
        band.set_clip_path(Rectangle((x0, 0), x1 - x0, 40, transform=ax.transData))

    sns.scatterplot(x=pd.Series(to_dates(px)), y=py, ax=ax, s=12, color=POINT_COL,
                    alpha=0.8, edgecolor='none', linewidth=0, zorder=3)
    for band_edge in (mean - np.array(ci_lo), mean + np.array(ci_hi)):
        sns.lineplot(x=d, y=band_edge, ax=ax, color=LINE_COL, lw=1.0,
                     linestyle=(0, (4, 3)), estimator=None, sort=False, zorder=4)
    sns.lineplot(x=d, y=mean, ax=ax, color=LINE_COL, lw=1.1,
                 estimator=None, sort=False, zorder=4)

    ax.set_title(name, color=TITLE_COL, fontsize=21, pad=8)
    ax.set_xlabel('')
    ax.set_ylabel('')


# ---------- figure ----------
def main():
    fig, axes = plt.subplots(3, 3, figsize=(11.99, 8), dpi=100, sharex=True, sharey=True)
    fig.subplots_adjust(left=0.0751, right=0.995, top=0.946, bottom=0.0725,
                        wspace=0.033, hspace=0.305)

    for i, (ax, name) in enumerate(zip(axes.flat, SITES)):
        row, col = divmod(i, 3)
        draw_panel(ax, name)

        ax.set_xlim(to_dates([-0.91, 19.11]))
        ax.set_ylim(10.83, 15.2)
        ax.set_yticks([11, 12, 13, 14, 15])
        ax.xaxis.set_major_locator(mdates.MonthLocator(bymonth=[2, 5, 8, 11]))
        ax.xaxis.set_major_formatter(mdates.DateFormatter('%m/%y'))

        ax.grid(True, color='#ebebeb', lw=1.1)
        ax.set_axisbelow(True)
        for s in ax.spines.values():
            s.set_visible(True)
            s.set_color('#333333')
            s.set_linewidth(0.9)

        ax.tick_params(axis='both', which='major', length=4, width=0.9,
                       color='#333333', labelcolor='#4d4d4d', labelsize=12, pad=2,
                       left=(col == 0), bottom=(row == 2),
                       labelleft=(col == 0), labelbottom=(row == 2))

    fig.text(0.026, 0.481, r'Log$_{10}$(load) (10$^{-5}$ persons$^{-1}$)',
             rotation=90, ha='center', va='center', fontsize=23.5)
    fig.text(0.535, 0.019, 'Date', ha='center', va='center', fontsize=21)

    fig.savefig('out.png', dpi=100)
    plt.close(fig)


if __name__ == "__main__":
    main()
